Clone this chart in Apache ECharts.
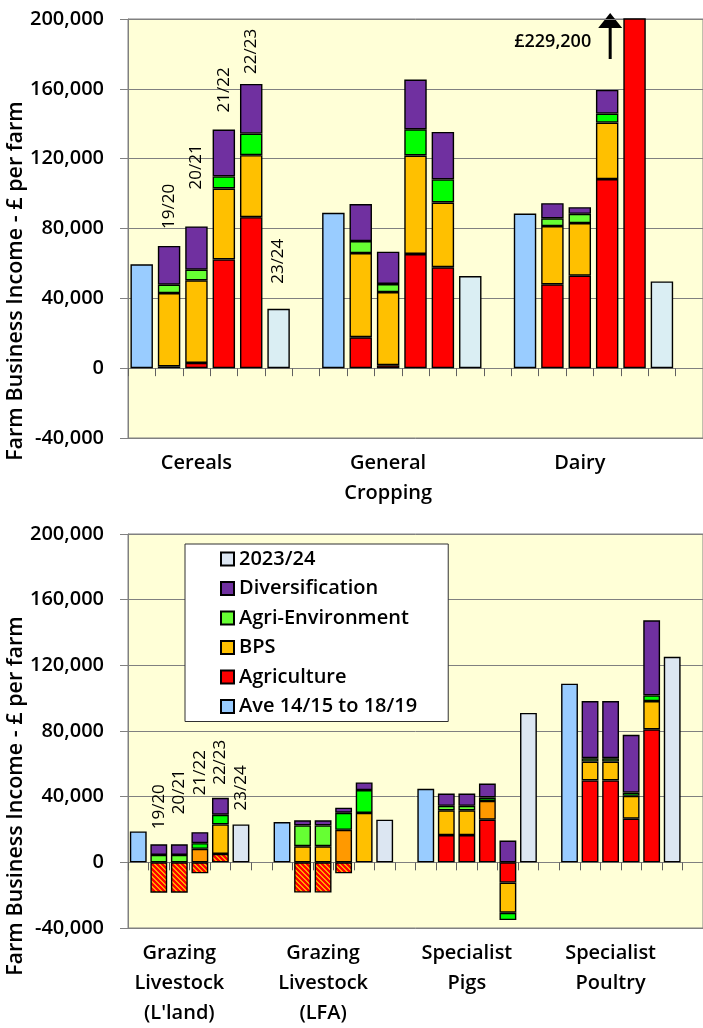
<!DOCTYPE html>
<html>
<head>
<meta charset="utf-8">
<script src="https://cdn.jsdelivr.net/npm/echarts@6/dist/echarts.min.js"></script>
<style>
  html, body { margin: 0; padding: 0; background: #fff; }
  #main { width: 703px; height: 1028px; }
</style>
</head>
<body>
<div id="main"></div>
<script>
// Farm Business Income (£ per farm), averages and 19/20 .. 23/24 by farm type
var yearTags = ['19/20', '20/21', '21/22', '22/23', '23/24'];
var yTicks = [-40000, 0, 40000, 80000, 120000, 160000, 200000];

// top panel
var topTypes = ['Cereals', 'General\nCropping', 'Dairy'];
var topAve = [59500, 89000, 88600];
var topAgri = [[1000, 3000, 62300, 86500], [17700, 1700, 65400, 57800], [48000, 53000, 108300, 229200]];
var topBps = [[42000, 47300, 40600, 35500], [48200, 41900, 56400, 37100], [33400, 30100, 32400, 0]];
var topEnv = [[4800, 6100, 6900, 12400], [6900, 4600, 15000, 13200], [4400, 5300, 5100, 0]];
var topDiv = [[22200, 24800, 26900, 28400], [21200, 18500, 28500, 27200], [8700, 3800, 13600, 0]];
var top2324 = [34000, 52800, 49700];

// bottom panel
var botTypes = ['Grazing\nLivestock\n(L\'land)', 'Grazing\nLivestock\n(LFA)', 'Specialist\nPigs', 'Specialist\nPoultry'];
var botAve = [18800, 24500, 44800, 108800];
var botAgri = [[-18500, -18500, -6700, 5100], [-18400, -18400, -6700, 0], [16600, 16600, 26000, -12300], [49900, 49900, 26600, 81000]];
var botBps = [[0, 0, 8200, 18000], [9800, 9800, 19800, 30100], [15100, 15100, 11400, -18400], [11500, 11500, 13900, 17200]];
var botEnv = [[4500, 4500, 3500, 5900], [12700, 12700, 10400, 13900], [2700, 2700, 2100, -4500], [2000, 2000, 2000, 3500]];
var botDiv = [[6500, 6500, 6700, 10300], [3100, 3100, 3100, 4700], [7500, 7500, 8500, 13300], [34800, 34800, 35200, 45700]];
var bot2324 = [23100, 26000, 91000, 125200];

// styling
var FONT = '"Open Sans", sans-serif';
var colors = {
    ave: '#99CCFF', agri: '#FF0000', bps: '#FFC000', bpsAlt: '#FF9900',
    env: '#66FF33', envNew: '#00FF00', div: '#7030A0',
    lastTop: '#DAEEF3', lastBot: '#DCE6F2'
};

function makeHatch() {
    var c = document.createElement('canvas');
    c.width = 5; c.height = 5;
    var ctx = c.getContext('2d');
    for (var y = 0; y < 5; y++) {
        for (var x = 0; x < 5; x++) {
            ctx.fillStyle = ((x - y + 10) % 5) < 2 ? '#FFA500' : '#FF0000';
            ctx.fillRect(x, y, 1, 1);
        }
    }
    return { image: c, repeat: 'repeat' };
}
var hatchFill = makeHatch();

function tagLabel(text, gap) {
    return {
        show: true, formatter: text, position: 'top', rotate: 90,
        align: 'left', verticalAlign: 'middle', distance: gap,
        fontSize: 17, color: '#000', fontFamily: FONT
    };
}

function nz(v) { return v === 0 ? '-' : v; }

// each farm type takes 7 slots: ave, 4 years, 23/24, gap
function buildPanel(p) {
    var n = p.types.length * 7;
    var cats = [], ave = [], ag = [], bps = [], env = [], div = [], last = [];
    for (var i = 0; i < n; i++) {
        cats.push(i % 7 === 2 ? p.types[Math.floor(i / 7)] : '');
        ave.push('-'); ag.push('-'); bps.push('-'); env.push('-'); div.push('-'); last.push('-');
    }
    p.types.forEach(function (t, g) {
        var b = g * 7;
        ave[b] = p.ave[g];
        for (var y = 0; y < 4; y++) {
            var s = b + y + 1;
            ag[s] = { value: nz(p.agri[g][y]) };
            if (p.hatch.indexOf(g) >= 0) ag[s].itemStyle = { color: hatchFill };
            bps[s] = { value: nz(p.bps[g][y]) };
            if (y === 2 && p.bpsAlt.indexOf(g) >= 0) bps[s].itemStyle = { color: colors.bpsAlt };
            env[s] = { value: nz(p.env[g][y]), itemStyle: { color: y >= 2 ? colors.envNew : colors.env } };
            div[s] = { value: nz(p.div[g][y]) };
            if (g === 0) div[s].label = tagLabel(yearTags[y], p.tagGap[y]);
        }
        last[b + 5] = { value: p.last[g] };
        if (g === 0) last[b + 5].label = tagLabel(yearTags[4], p.tagGap[4]);
    });

    var stack = 'st' + p.grid;
    function bar(name, data, color) {
        return {
            name: name, type: 'bar', stack: stack, data: data,
            xAxisIndex: p.grid * 2, yAxisIndex: p.grid,
            barWidth: '82%', clip: true,
            itemStyle: { color: color, borderColor: '#000', borderWidth: 1.4 }
        };
    }
    return {
        cats: cats,
        series: [
            bar('Ave 14/15 to 18/19', ave, colors.ave),
            bar('Agriculture', ag, colors.agri),
            bar('BPS', bps, colors.bps),
            bar('Agri-Environment', env, colors.env),
            bar('Diversification', div, colors.div),
            bar('2023/24', last, p.lastColor)
        ]
    };
}

var topPanel = buildPanel({
    grid: 0, types: topTypes, ave: topAve, agri: topAgri, bps: topBps, env: topEnv, div: topDiv,
    last: top2324, lastColor: colors.lastTop, hatch: [], bpsAlt: [], tagGap: [17, 37, 17, 10, 25]
});
var botPanel = buildPanel({
    grid: 1, types: botTypes, ave: botAve, agri: botAgri, bps: botBps, env: botEnv, div: botDiv,
    last: bot2324, lastColor: colors.lastBot, hatch: [0, 1], bpsAlt: [0, 1, 2], tagGap: [15, 30, 37, 13, 14]
});

function xAxes(gridIndex, cats) {
    return [{
        type: 'category', gridIndex: gridIndex, data: cats,
        axisLine: { onZero: true, lineStyle: { color: '#808080', width: 1 } },
        axisTick: { show: true, interval: 0, length: 8, lineStyle: { color: '#606060' } },
        axisLabel: { show: false }, splitLine: { show: false }
    }, {
        type: 'category', gridIndex: gridIndex, data: cats, position: 'bottom',
        axisLine: { show: false, onZero: false }, axisTick: { show: false },
        axisLabel: {
            interval: 0, margin: 10, fontSize: 20, fontWeight: 600, lineHeight: 30,
            color: '#000', fontFamily: FONT
        }
    }];
}

function yAxis(gridIndex) {
    return {
        type: 'value', gridIndex: gridIndex,
        min: yTicks[0], max: yTicks[yTicks.length - 1], interval: yTicks[1] - yTicks[0],
        axisLine: { show: true, onZero: false, lineStyle: { color: '#808080' } },
        axisTick: { show: true, length: 8, lineStyle: { color: '#808080' } },
        axisLabel: {
            margin: 24, fontSize: 20, fontWeight: 600, color: '#000', fontFamily: FONT,
            formatter: function (v) { return echarts.format.addCommas(v); }
        },
        splitLine: { lineStyle: { color: '#808080' } }
    };
}

var yName = 'Farm Business Income - £ per farm';

var option = {
    animation: false,
    backgroundColor: '#fff',
    grid: [
        { left: 128, top: 19, width: 580, height: 419, show: true, backgroundColor: '#FFFFD7', borderColor: '#808080', borderWidth: 1 },
        { left: 128, top: 534, width: 580, height: 395, show: true, backgroundColor: '#FFFFD7', borderColor: '#808080', borderWidth: 1 }
    ],
    xAxis: xAxes(0, topPanel.cats).concat(xAxes(1, botPanel.cats)),
    yAxis: [yAxis(0), yAxis(1)],
    legend: {
        orient: 'vertical', left: 185, top: 544,
        data: ['2023/24', 'Diversification', 'Agri-Environment', 'BPS', 'Agriculture', 'Ave 14/15 to 18/19'],
        icon: 'rect', itemWidth: 13, itemHeight: 13, itemGap: 9.5,
        padding: [5, 31, 5, 35],
        backgroundColor: '#fff', borderColor: '#303030', borderWidth: 1,
        selectedMode: false,
        textStyle: { fontSize: 20, fontWeight: 600, color: '#000', fontFamily: FONT, lineHeight: 20 }
    },
    series: botPanel.series.concat(topPanel.series),
    graphic: [
        { type: 'text', x: 16, y: 281, rotation: Math.PI / 2, style: { text: yName, fill: '#000', font: '600 21.5px ' + FONT, align: 'center', verticalAlign: 'middle' } },
        { type: 'text', x: 16, y: 796, rotation: Math.PI / 2, style: { text: yName, fill: '#000', font: '600 21.5px ' + FONT, align: 'center', verticalAlign: 'middle' } }
    ]
};

var dom = document.getElementById('main');
var myChart = echarts.init(dom, null, { renderer: 'canvas' });
myChart.setOption(option);

// off-scale note for Dairy 22/23
var dairySlot = 2 * 7 + 4;
var dairyTotal = topAgri[2][3] + topBps[2][3] + topEnv[2][3] + topDiv[2][3];
var pTop = myChart.convertToPixel({ xAxisIndex: 0, yAxisIndex: 0 }, [dairySlot, yTicks[yTicks.length - 1]]);
var pNext = myChart.convertToPixel({ xAxisIndex: 0, yAxisIndex: 0 }, [dairySlot + 1, yTicks[yTicks.length - 1]]);
var slotW = pNext[0] - pTop[0];
var ax = pTop[0] - 0.89 * slotW;
var ay = pTop[1];
myChart.setOption({
    graphic: option.graphic.concat([
        { type: 'line', shape: { x1: ax, y1: ay + 40, x2: ax, y2: ay + 6 }, style: { stroke: '#000', lineWidth: 3 } },
        { type: 'polygon', shape: { points: [[ax - 12, ay + 9], [ax + 12, ay + 9], [ax, ay - 6]] }, style: { fill: '#000' } },
        { type: 'text', x: ax - 19, y: ay + 23, style: { text: '£' + echarts.format.addCommas(dairyTotal), fill: '#000', font: '600 18px ' + FONT, align: 'right', verticalAlign: 'middle' } }
    ])
});
</script>
</body>
</html>
